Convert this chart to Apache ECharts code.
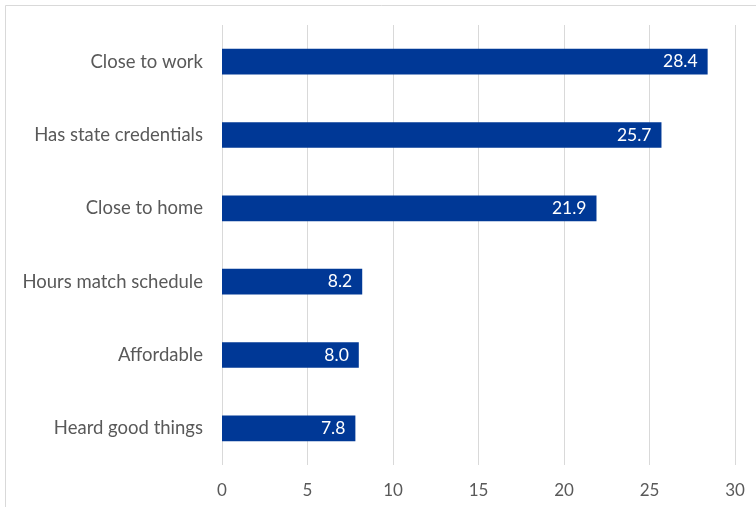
<!DOCTYPE html>
<html>
<head>
<meta charset="utf-8">
<script src="https://cdn.jsdelivr.net/npm/echarts@6/dist/echarts.min.js"></script>
<style>
  html, body { margin: 0; padding: 0; background: #ffffff; }
  #chart { width: 756px; height: 507px; }
</style>
</head>
<body>
<div id="chart"></div>
<script>
// Reasons cited for choosing a provider (percent)
const categories = [
  'Close to work',
  'Has state credentials',
  'Close to home',
  'Hours match schedule',
  'Affordable',
  'Heard good things'
];
const values = [28.4, 25.7, 21.9, 8.2, 8.0, 7.8];
const xTicks = [0, 5, 10, 15, 20, 25, 30];

const chart = echarts.init(document.getElementById('chart'), null, { renderer: 'canvas' });

const fontFamily = '"Lato", "Open Sans", sans-serif';

chart.setOption({
  backgroundColor: '#ffffff',
  animation: false,
  graphic: [
    {
      type: 'rect',
      shape: { x: 5.5, y: 5.5, width: 800, height: 600 },
      style: { fill: 'none', stroke: '#d9d9d9', lineWidth: 1 },
      silent: true
    }
  ],
  grid: { left: 222, right: 21, top: 25, bottom: 42 },
  xAxis: {
    type: 'value',
    min: xTicks[0],
    max: xTicks[xTicks.length - 1],
    interval: 5,
    axisLine: { show: false },
    axisTick: { show: false },
    splitLine: { show: true, lineStyle: { color: '#d9d9d9', width: 1 } },
    axisLabel: {
      color: '#595959',
      fontSize: 17,
      fontFamily: fontFamily,
      margin: 17
    }
  },
  yAxis: {
    type: 'category',
    data: categories,
    inverse: true,
    axisLine: { show: false },
    axisTick: { show: false },
    axisLabel: {
      color: '#595959',
      fontSize: 18.5,
      fontFamily: fontFamily,
      margin: 19
    }
  },
  series: [
    {
      type: 'bar',
      data: values,
      barWidth: '35%',
      itemStyle: { color: '#003896' },
      label: {
        show: true,
        position: 'insideRight',
        distance: 10,
        color: '#ffffff',
        fontSize: 17.5,
        fontFamily: fontFamily,
        formatter: p => p.value.toFixed(1)
      }
    }
  ]
});
</script>
</body>
</html>
